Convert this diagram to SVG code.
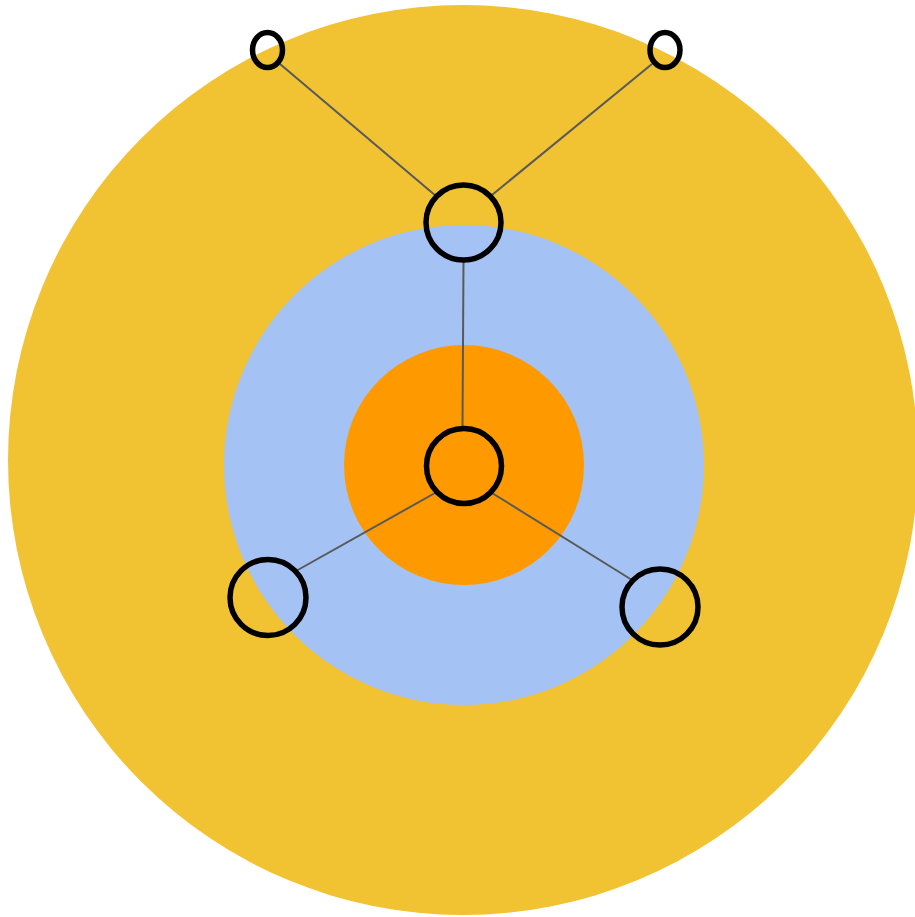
<svg xmlns="http://www.w3.org/2000/svg" width="915" height="917" viewBox="0 0 915 917">
<style>
.node{fill:none;stroke:#000;stroke-width:5.5}
.edge{stroke:#595959;stroke-width:2;fill:none}
</style>
<rect width="915" height="917" fill="#fff"/>
<g id="rings">
<circle cx="463" cy="460" r="455" fill="#f1c232"/>
<circle cx="464" cy="465" r="240" fill="#a4c2f4"/>
<circle cx="464" cy="465" r="120" fill="#ff9900"/>
</g>
<g id="connectors">
<line class="edge" x1="280" y1="64" x2="436" y2="196"/>
<line class="edge" x1="652" y1="64" x2="492" y2="195"/>
<line class="edge" x1="463.5" y1="261" x2="462.5" y2="427"/>
<line class="edge" x1="435" y1="493" x2="296" y2="571"/>
<line class="edge" x1="492" y1="493" x2="632" y2="580"/>
</g>
<g id="n-top-left"><ellipse class="node" cx="267.5" cy="50" rx="15" ry="17.5"/></g>
<g id="n-top-right"><ellipse class="node" cx="665" cy="50" rx="15" ry="17.5"/></g>
<g id="n-top"><circle class="node" cx="463.5" cy="222.5" r="37.5"/></g>
<g id="n-center"><circle class="node" cx="464" cy="466" r="37.5"/></g>
<g id="n-lower-left"><circle class="node" cx="268" cy="597.5" r="38"/></g>
<g id="n-lower-right"><circle class="node" cx="660" cy="607" r="38"/></g>
</svg>
